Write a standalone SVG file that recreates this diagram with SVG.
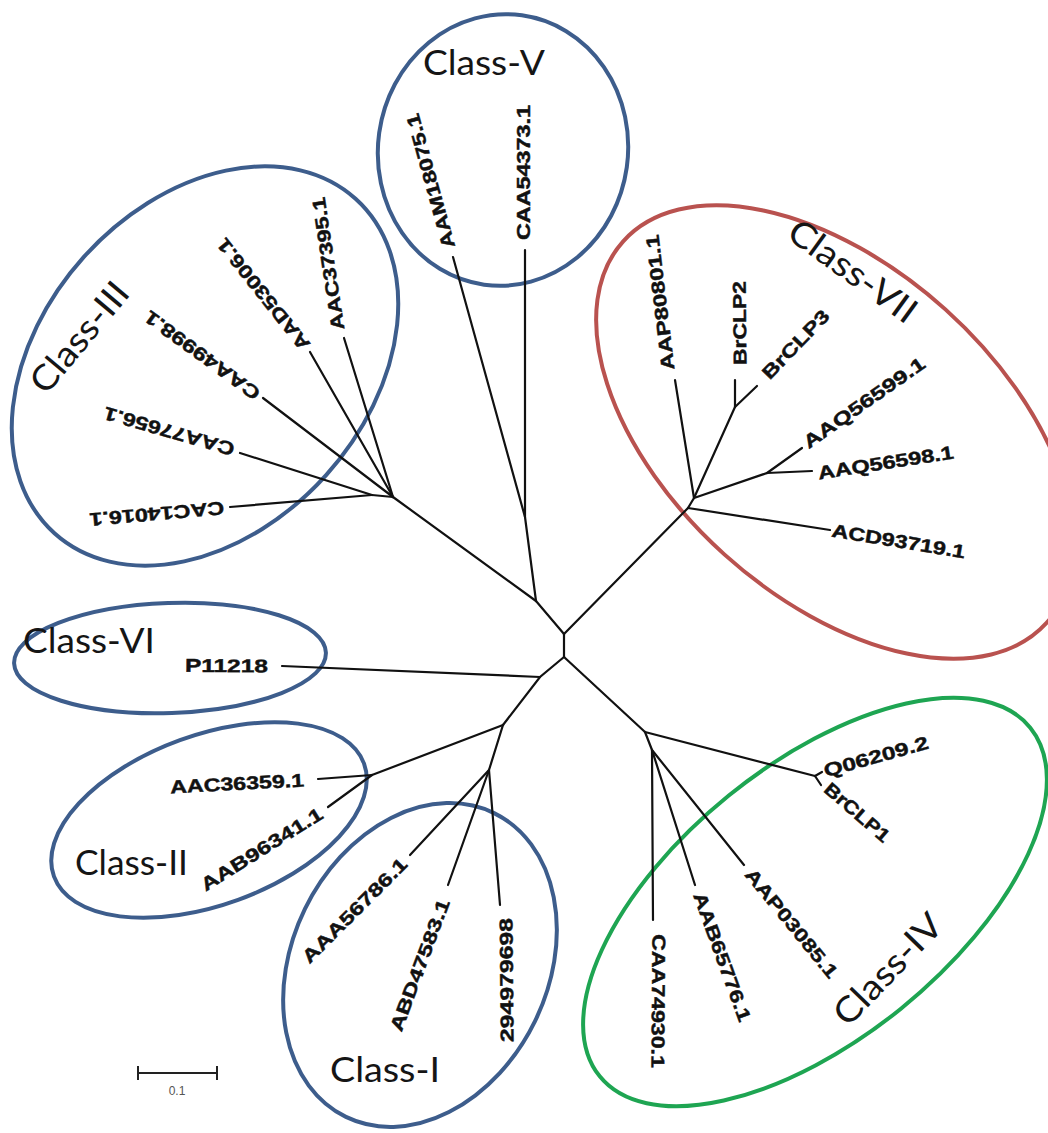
<svg xmlns="http://www.w3.org/2000/svg" width="1048" height="1133" viewBox="0 0 1048 1133">
  <style>
    .br { stroke: #111; stroke-width: 2.2; fill: none; stroke-linecap: round; }
    .leaf { font-family: "Liberation Sans", Arial, sans-serif; font-weight: bold; font-size: 18.5px; fill: #111; stroke: #111; stroke-width: 0.45; }
    .cls { font-family: Lato, "Open Sans", sans-serif; font-size: 35px; fill: #151515; }
    .ring { fill: none; stroke-width: 4; }
    .blue { stroke: #3d5d8c; }
    .red { stroke: #b9524f; }
    .green { stroke: #1ea552; }
    .scale { stroke: #222; stroke-width: 2; }
    .scaletxt { font-family: "Liberation Sans", Arial, sans-serif; font-size: 12px; fill: #555; }
  </style>
  <rect width="1048" height="1133" fill="#ffffff"/>

  <!-- clade outlines with their titles -->
  <g id="class-V">
    <ellipse class="ring blue" cx="503" cy="150" rx="125" ry="136" transform="rotate(8 503 150)"/>
    <text class="cls" x="423" y="75" textLength="122" lengthAdjust="spacingAndGlyphs">Class-V</text>
  </g>
  <g id="class-III">
    <ellipse class="ring blue" cx="205" cy="366" rx="225" ry="163" transform="rotate(-48 205 366)"/>
    <text class="cls" transform="translate(46 396) rotate(-50)" textLength="133" lengthAdjust="spacingAndGlyphs">Class-III</text>
  </g>
  <g id="class-VII">
    <ellipse class="ring red" cx="835" cy="432" rx="285" ry="165" transform="rotate(42 835 432)"/>
    <text class="cls" transform="translate(785 237) rotate(36)" textLength="150" lengthAdjust="spacingAndGlyphs">Class-VII</text>
  </g>
  <g id="class-VI">
    <ellipse class="ring blue" cx="170" cy="658" rx="156" ry="55" transform="rotate(-2 170 658)"/>
    <text class="cls" x="23" y="653" textLength="132" lengthAdjust="spacingAndGlyphs">Class-VI</text>
  </g>
  <g id="class-II">
    <ellipse class="ring blue" cx="209" cy="820" rx="165" ry="85" transform="rotate(-20 209 820)"/>
    <text class="cls" x="75" y="875" textLength="113" lengthAdjust="spacingAndGlyphs">Class-II</text>
  </g>
  <g id="class-I">
    <ellipse class="ring blue" cx="420" cy="965" rx="169" ry="128" transform="rotate(-64 420 965)"/>
    <text class="cls" x="330" y="1082" textLength="110" lengthAdjust="spacingAndGlyphs">Class-I</text>
  </g>
  <g id="class-IV">
    <ellipse class="ring green" cx="815" cy="902" rx="277" ry="137" transform="rotate(-39 815 902)"/>
    <text class="cls" transform="translate(848 1028) rotate(-46)" textLength="140" lengthAdjust="spacingAndGlyphs">Class-IV</text>
  </g>

  <!-- tree branches -->
  <g id="connectors" class="br">
    <!-- backbone -->
    <path d="M564 634 L564 657"/>
    <path d="M564 634 L536 601"/>
    <path d="M564 634 L688 508"/>
    <path d="M536 601 L393 497"/>
    <path d="M536 601 L525 517"/>
    <path d="M564 657 L540 677 L503 725"/>
    <path d="M564 657 L645 732"/>
    <path d="M540 677 L282 666"/>
    <path d="M503 725 L372 775"/>
    <path d="M503 725 L489 770"/>
    <!-- Class-II -->
    <path d="M372 775 L318 779"/>
    <path d="M372 775 L328 807"/>
    <!-- Class-I -->
    <path d="M489 770 L410 855"/>
    <path d="M489 770 L448 885"/>
    <path d="M489 770 L500 905"/>
    <!-- Class-III -->
    <path d="M393 497 L344 338"/>
    <path d="M393 497 L310 352"/>
    <path d="M393 497 L263 398"/>
    <path d="M393 497 L372 495"/>
    <path d="M372 495 L240 453"/>
    <path d="M372 495 L230 507"/>
    <!-- Class-V -->
    <path d="M525 517 L525 250"/>
    <path d="M525 517 L453 257"/>
    <!-- Class-VII -->
    <path d="M688 508 L694 498"/>
    <path d="M694 498 L675 380"/>
    <path d="M694 498 L735 407"/>
    <path d="M735 407 L735 380"/>
    <path d="M735 407 L757 386"/>
    <path d="M694 498 L767 473"/>
    <path d="M767 473 L802 448"/>
    <path d="M767 473 L812 471"/>
    <path d="M688 508 L830 530"/>
    <!-- Class-IV -->
    <path d="M645 732 L815 776"/>
    <path d="M815 776 L822 772"/>
    <path d="M815 776 L821 785"/>
    <path d="M645 732 L652 750"/>
    <path d="M652 750 L653 920"/>
    <path d="M652 750 L695 885"/>
    <path d="M652 750 L744 865"/>
  </g>

  <!-- leaf labels -->
  <g id="AAM18075.1"><text class="leaf" transform="translate(449 248) rotate(-105.4)" dy="0.35em" textLength="139" lengthAdjust="spacingAndGlyphs">AAM18075.1</text></g>
  <g id="CAA54373.1"><text class="leaf" transform="translate(524 240) rotate(-90)" dy="0.35em" textLength="135" lengthAdjust="spacingAndGlyphs">CAA54373.1</text></g>
  <g id="AAC37395.1"><text class="leaf" transform="translate(338 330) rotate(-98.5)" dy="0.35em" textLength="134" lengthAdjust="spacingAndGlyphs">AAC37395.1</text></g>
  <g id="AAD53006.1"><text class="leaf" transform="translate(306 348) rotate(-128.5)" dy="0.35em" textLength="137" lengthAdjust="spacingAndGlyphs">AAD53006.1</text></g>
  <g id="CAA49998.1"><text class="leaf" transform="translate(258 396) rotate(-144)" dy="0.35em" textLength="138" lengthAdjust="spacingAndGlyphs">CAA49998.1</text></g>
  <g id="CAA77656.1"><text class="leaf" transform="translate(234 450) rotate(-164)" dy="0.35em" textLength="135" lengthAdjust="spacingAndGlyphs">CAA77656.1</text></g>
  <g id="CAC14016.1"><text class="leaf" transform="translate(224 508) rotate(175)" dy="0.35em" textLength="135" lengthAdjust="spacingAndGlyphs">CAC14016.1</text></g>

  <g id="AAP80801.1"><text class="leaf" transform="translate(668 370) rotate(-96.8)" dy="0.35em" textLength="136" lengthAdjust="spacingAndGlyphs">AAP80801.1</text></g>
  <g id="BrCLP2"><text class="leaf" transform="translate(740 365) rotate(-90.5)" dy="0.35em" textLength="84" lengthAdjust="spacingAndGlyphs">BrCLP2</text></g>
  <g id="BrCLP3"><text class="leaf" transform="translate(765 376) rotate(-46)" dy="0.35em" textLength="88" lengthAdjust="spacingAndGlyphs">BrCLP3</text></g>
  <g id="AAQ56599.1"><text class="leaf" transform="translate(805 444) rotate(-35)" dy="0.35em" textLength="144" lengthAdjust="spacingAndGlyphs">AAQ56599.1</text></g>
  <g id="AAQ56598.1"><text class="leaf" transform="translate(818 473) rotate(-8.8)" dy="0.35em" textLength="137" lengthAdjust="spacingAndGlyphs">AAQ56598.1</text></g>
  <g id="ACD93719.1"><text class="leaf" transform="translate(832 530) rotate(9.4)" dy="0.35em" textLength="135" lengthAdjust="spacingAndGlyphs">ACD93719.1</text></g>

  <g id="Q06209.2"><text class="leaf" transform="translate(824 771) rotate(-15.5)" dy="0.35em" textLength="108" lengthAdjust="spacingAndGlyphs">Q06209.2</text></g>
  <g id="BrCLP1"><text class="leaf" transform="translate(827 786) rotate(41)" dy="0.35em" textLength="80" lengthAdjust="spacingAndGlyphs">BrCLP1</text></g>
  <g id="AAP03085.1"><text class="leaf" transform="translate(749 871) rotate(50.8)" dy="0.35em" textLength="135" lengthAdjust="spacingAndGlyphs">AAP03085.1</text></g>
  <g id="AAB65776.1"><text class="leaf" transform="translate(699 893) rotate(70)" dy="0.35em" textLength="136" lengthAdjust="spacingAndGlyphs">AAB65776.1</text></g>
  <g id="CAA74930.1"><text class="leaf" transform="translate(659 934) rotate(90.5)" dy="0.35em" textLength="134" lengthAdjust="spacingAndGlyphs">CAA74930.1</text></g>

  <g id="P11218"><text class="leaf" transform="translate(268 666) rotate(0.5)" dy="0.35em" text-anchor="end" textLength="83" lengthAdjust="spacingAndGlyphs">P11218</text></g>
  <g id="AAC36359.1"><text class="leaf" transform="translate(304 780) rotate(-3)" dy="0.35em" text-anchor="end" textLength="134" lengthAdjust="spacingAndGlyphs">AAC36359.1</text></g>
  <g id="AAB96341.1"><text class="leaf" transform="translate(321 812) rotate(-32)" dy="0.35em" text-anchor="end" textLength="140" lengthAdjust="spacingAndGlyphs">AAB96341.1</text></g>
  <g id="AAA56786.1"><text class="leaf" transform="translate(404 861) rotate(-45)" dy="0.35em" text-anchor="end" textLength="140" lengthAdjust="spacingAndGlyphs">AAA56786.1</text></g>
  <g id="ABD47583.1"><text class="leaf" transform="translate(444 900) rotate(-69.5)" dy="0.35em" text-anchor="end" textLength="139" lengthAdjust="spacingAndGlyphs">ABD47583.1</text></g>
  <g id="294979698"><text class="leaf" transform="translate(506 918) rotate(-90.5)" dy="0.35em" text-anchor="end" textLength="124" lengthAdjust="spacingAndGlyphs">294979698</text></g>

  <!-- distance scale -->
  <g id="scale-bar">
    <path class="scale" d="M138 1073 H217 M138 1066 V1080 M217 1066 V1080"/>
    <text class="scaletxt" x="177" y="1095" text-anchor="middle">0.1</text>
  </g>
</svg>
